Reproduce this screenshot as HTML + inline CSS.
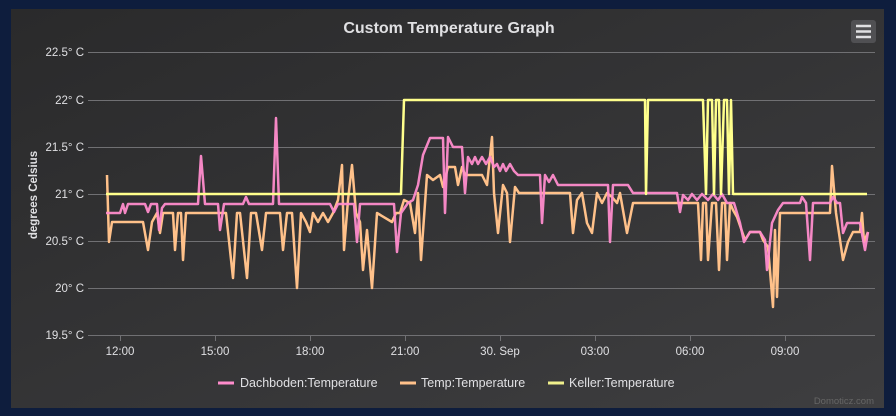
<!DOCTYPE html>
<html><head><meta charset="utf-8"><style>
html,body{margin:0;padding:0;background:#0e1d3d;width:896px;height:416px;overflow:hidden}
svg{display:block;font-family:"Liberation Sans","DejaVu Sans",sans-serif}
</style></head><body>
<svg width="896" height="416" viewBox="0 0 896 416">
<defs><linearGradient id="bg" x1="0" y1="0" x2="1" y2="1"><stop offset="0" stop-color="#2a2a2b"/><stop offset="1" stop-color="#3e3e40"/></linearGradient></defs>
<rect x="0" y="0" width="896" height="416" fill="#0e1d3d"/>
<rect x="11" y="9" width="873" height="399" fill="url(#bg)"/>
<text x="449" y="33" text-anchor="middle" fill="#e0e0e3" font-size="16" font-weight="bold">Custom Temperature Graph</text>
<rect x="851" y="20" width="25" height="23" rx="3" fill="#505053"/>
<g stroke="#e0e0e3" stroke-width="2.5"><line x1="856" y1="26" x2="871" y2="26"/><line x1="856" y1="31.5" x2="871" y2="31.5"/><line x1="856" y1="37" x2="871" y2="37"/></g>
<g stroke="#707073" stroke-width="1">
<line x1="88" y1="52.5" x2="875" y2="52.5"/><line x1="88" y1="100.5" x2="875" y2="100.5"/><line x1="88" y1="147.5" x2="875" y2="147.5"/><line x1="88" y1="194.5" x2="875" y2="194.5"/><line x1="88" y1="241.5" x2="875" y2="241.5"/><line x1="88" y1="288.5" x2="875" y2="288.5"/><line x1="88" y1="335.5" x2="875" y2="335.5"/>
<line x1="120.5" y1="335" x2="120.5" y2="341"/><line x1="215.5" y1="335" x2="215.5" y2="341"/><line x1="310.5" y1="335" x2="310.5" y2="341"/><line x1="405.5" y1="335" x2="405.5" y2="341"/><line x1="500.5" y1="335" x2="500.5" y2="341"/><line x1="595.5" y1="335" x2="595.5" y2="341"/><line x1="690.5" y1="335" x2="690.5" y2="341"/><line x1="785.5" y1="335" x2="785.5" y2="341"/>
</g>
<g fill="#e0e0e3" font-size="11.5" text-anchor="end">
<text x="84" y="56">22.5° C</text><text x="84" y="104">22° C</text><text x="84" y="151">21.5° C</text><text x="84" y="198">21° C</text><text x="84" y="245">20.5° C</text><text x="84" y="292">20° C</text><text x="84" y="339">19.5° C</text>
</g>
<g fill="#e0e0e3" font-size="11.5" text-anchor="middle">
<text x="120" y="355">12:00</text><text x="215" y="355">15:00</text><text x="310" y="355">18:00</text><text x="405" y="355">21:00</text><text x="500" y="355">30. Sep</text><text x="595" y="355">03:00</text><text x="690" y="355">06:00</text><text x="785" y="355">09:00</text>
</g>
<text transform="translate(37,195) rotate(-90)" text-anchor="middle" fill="#e0e0e3" font-size="11.5" font-weight="bold">degrees Celsius</text>
<g fill="none" stroke-width="2.5" stroke-linejoin="round">
<polyline stroke="#ffc18a" points="107,175 109,242 112,222 143,222 148,250 152,222 157,213 160,233 163,213 173,213 175,250 178,213 181,213 183,260 186,213 218,213 226,213 233,278 237,213 240,213 247,278 251,213 256,213 262,250 266,213 280,213 283,250 287,213 292,213 297,288 301,213 306,222 310,232 313,213 318,222 323,213 328,222 333,213 338,200 342,165 344,250 348,200 352,165 356,213 360,222 363,270 367,230 372,288 377,213 392,222 396,213 400,213 404,200 410,203 415,233 418,193 421,260 427,175 433,180 440,175 443,187 448,167 455,167 458,185 462,167 465,175 482,175 487,185 492,137 494,193 498,233 503,185 507,193 510,242 515,187 519,193 523,193 570,193 573,233 577,200 582,193 587,223 592,233 597,193 602,203 607,193 612,197 617,203 620,193 627,233 633,203 698,203 701,260 703,203 706,203 708,260 712,203 716,203 719,270 722,203 725,203 727,260 730,203 733,210 737,217 745,240 750,232 760,232 763,240 768,247 773,307 775,230 777,297 780,213 830,213 832,166 836,213 843,260 848,242 853,232 860,232 862,213 864,242 868,232"/>
<polyline stroke="#ff8ccc" stroke-opacity="0.95" points="106,213 120,213 123,204 125,213 128,204 145,204 148,212 151,204 157,204 159,230 162,208 165,204 198,204 201,156 205,204 218,204 220,230 224,204 243,204 246,197 249,204 273,204 276,118 279,204 330,204 334,212 338,204 354,204 357,242 360,204 394,204 397,252 401,213 408,203 413,200 418,185 423,155 430,138 443,138 445,213 448,137 453,147 462,147 465,193 468,157 472,164 475,157 478,164 482,157 486,164 490,157 494,167 497,164 500,171 503,164 506,171 510,164 514,171 518,175 540,175 542,223 545,175 549,182 553,175 558,185 608,185 610,242 613,185 628,185 633,193 677,193 680,212 683,195 688,200 692,194 697,200 702,194 708,200 713,194 718,200 722,194 727,203 734,203 740,223 744,242 750,232 760,232 765,240 767,270 772,223 778,210 783,203 800,203 802,197 806,203 810,260 813,203 830,203 833,197 837,203 840,203 843,233 847,223 860,223 865,250 868,232"/>
<polyline stroke="#ffff8c" points="106,194 401,194 404,100 645,100 646,194 648,100 703,100 706,194 708,100 712,100 714,194 716,100 719,100 721,194 724,100 727,100 729,194 731,100 733,194 867,194"/>
</g>
<g font-size="12.5" fill="#e0e0e3">
<line x1="218" y1="383" x2="234" y2="383" stroke="#ff8ccc" stroke-width="3"/>
<text x="240" y="387">Dachboden:Temperature</text>
<line x1="400" y1="383" x2="416" y2="383" stroke="#ffc18a" stroke-width="3"/>
<text x="421" y="387">Temp:Temperature</text>
<line x1="548" y1="383" x2="564" y2="383" stroke="#f0f08c" stroke-width="3"/>
<text x="569" y="387">Keller:Temperature</text>
</g>
<text x="874" y="404" text-anchor="end" font-size="9.5" fill="#666">Domoticz.com</text>
</svg>
</body></html>
